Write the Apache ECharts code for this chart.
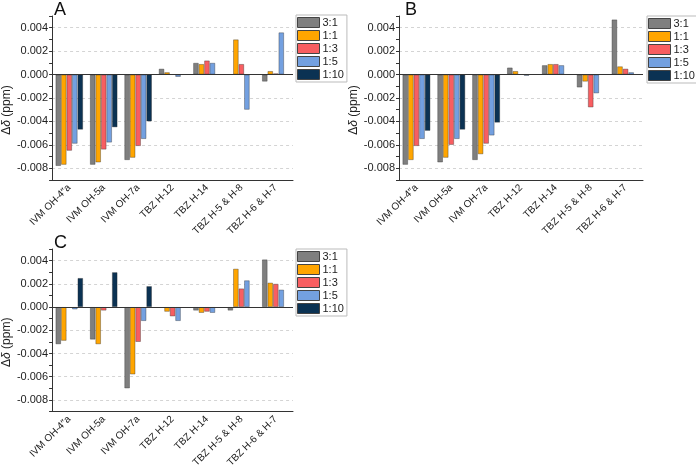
<!DOCTYPE html>
<html>
<head>
<meta charset="utf-8">
<script src="https://cdn.jsdelivr.net/npm/echarts@6/dist/echarts.min.js"></script>
<style>
  html, body { margin: 0; padding: 0; background: #fff; }
  #main { width: 696px; height: 470px; }
</style>
</head>
<body>
<div id="main"></div>
<script>
const categories = ['IVM OH-4\u2033a', 'IVM OH-5a', 'IVM OH-7a', 'TBZ H-12', 'TBZ H-14', 'TBZ H-5 & H-8', 'TBZ H-6 & H-7']
const ratios = ['3:1', '1:1', '1:3', '1:5', '1:10']
const colors = ['#7f7f7f', '#ffa500', '#f85e61', '#73a0e0', '#0b3253']

// one row per ratio (3:1, 1:1, 1:3, 1:5, 1:10), '-' = no bar
const panelA = [
  [-0.0078, -0.0077, -0.0073, 0.0005, 0.0010, '-', -0.0006],
  [-0.0077, -0.0075, -0.0071, 0.0002, 0.0009, 0.0030, 0.0003],
  [-0.0065, -0.0064, -0.0061, '-', 0.0012, 0.0009, 0.0001],
  [-0.0059, -0.0058, -0.0055, -0.0002, 0.0010, -0.0030, 0.0036],
  [-0.0047, -0.0045, -0.0040, '-', '-', '-', '-']
]
const panelB = [
  [-0.0077, -0.0075, -0.0073, 0.0006, 0.0008, -0.0011, 0.0047],
  [-0.0073, -0.0071, -0.0068, 0.0003, 0.0009, -0.0006, 0.0007],
  [-0.0061, -0.0060, -0.0059, '-', 0.0009, -0.0028, 0.0005],
  [-0.0055, -0.0055, -0.0052, -0.0001, 0.0008, -0.0016, 0.0002],
  [-0.0048, -0.0047, -0.0041, '-', '-', '-', '-']
]
const panelC = [
  [-0.0032, -0.0028, -0.0070, '-', -0.0003, -0.0003, 0.0041],
  [-0.0029, -0.0032, -0.0058, -0.0004, -0.0005, 0.0033, 0.0021],
  ['-', -0.0003, -0.0030, -0.0008, -0.0004, 0.0016, 0.0020],
  [-0.0002, '-', -0.0012, -0.0012, -0.0005, 0.0023, 0.0015],
  [0.0025, 0.0030, 0.0018, '-', '-', '-', '-']
]
const panelLabels = ['A', 'B', 'C']

const panels = [panelA, panelB, panelC]
const grids = [
  { left: 48, top: 16, width: 245, height: 164 },
  { left: 399, top: 16, width: 244, height: 164 },
  { left: 48, top: 249, width: 245, height: 165 }
]
const legendPos = [
  { left: 296, top: 15 },
  { left: 647, top: 16 },
  { left: 296, top: 249 }
]

const font = 'Liberation Sans, Arial, sans-serif'
const chart = echarts.init(document.getElementById('main'))

const series = []
panels.forEach((panel, g) => {
  panel.forEach((vals, i) => {
    const s = {
      name: ratios[i],
      type: 'bar',
      xAxisIndex: g,
      yAxisIndex: g,
      data: vals,
      barGap: '0%',
      barCategoryGap: '20%',
      itemStyle: { color: colors[i], borderColor: 'rgba(40,40,40,0.45)', borderWidth: 0.8 },
      emphasis: { disabled: true }
    }
    if (i === 0) {
      s.markLine = {
        silent: true,
        symbol: 'none',
        label: { show: false },
        lineStyle: { color: '#333', width: 1, type: 'solid' },
        data: [{ yAxis: 0 }]
      }
    }
    series.push(s)
  })
})

chart.setOption({
  animation: false,
  textStyle: { fontFamily: font },
  title: grids.map((gr, g) => ({
    text: panelLabels[g],
    left: gr.left + 1,
    top: g === 2 ? 229 : -4,
    textStyle: { fontSize: 18, fontWeight: 'normal', color: '#111', fontFamily: font }
  })),
  legend: legendPos.map((p) => ({
    data: ratios,
    orient: 'vertical',
    left: p.left,
    top: p.top,
    icon: 'rect',
    itemWidth: 22,
    itemHeight: 10,
    itemGap: 2,
    padding: [2, 3, 2, 1],
    borderColor: '#bbb',
    borderWidth: 1,
    selectedMode: false,
    itemStyle: { borderColor: '#444', borderWidth: 1 },
    textStyle: { fontSize: 11, lineHeight: 10, color: '#222', fontFamily: font, padding: [0, 0, 0, -2] }
  })),
  grid: grids,
  xAxis: grids.map((gr, g) => ({
    type: 'category',
    gridIndex: g,
    data: categories,
    axisLine: { onZero: false, lineStyle: { color: '#333' } },
    axisTick: { alignWithLabel: true, length: 4, lineStyle: { color: '#333' } },
    axisLabel: { rotate: 45, fontSize: 10, color: '#222', margin: 6, interval: 0 },
    splitLine: { show: false }
  })),
  yAxis: grids.map((gr, g) => ({
    type: 'value',
    gridIndex: g,
    min: -0.009,
    max: 0.005,
    interval: 0.001,
    name: '{a|\u0394}{b|\u03b4}{a| (ppm)}',
    nameLocation: 'middle',
    nameGap: 31,
    nameTextStyle: {
      padding: [0, 24, 0, 0],
      rich: {
        a: { fontSize: 12, color: '#222', fontFamily: font },
        b: { fontSize: 12, color: '#222', fontStyle: 'italic', fontFamily: font }
      }
    },
    axisLine: { show: true, lineStyle: { color: '#333' } },
    axisTick: { show: true, length: 3, lineStyle: { color: '#333' } },
    axisLabel: {
      fontSize: 11,
      color: '#222',
      margin: 4,
      formatter: (v) => {
        const k = Math.round(v * 1000)
        if (k % 2 !== 0 || k === -10 || k === 6) return ''
        return (k / 1000).toFixed(3)
      }
    },
    splitLine: {
      show: true,
      lineStyle: { color: ['transparent', '#d4d4d4'], type: [3, 3], width: 1 }
    }
  })),
  series: series
})
</script>
</body>
</html>
